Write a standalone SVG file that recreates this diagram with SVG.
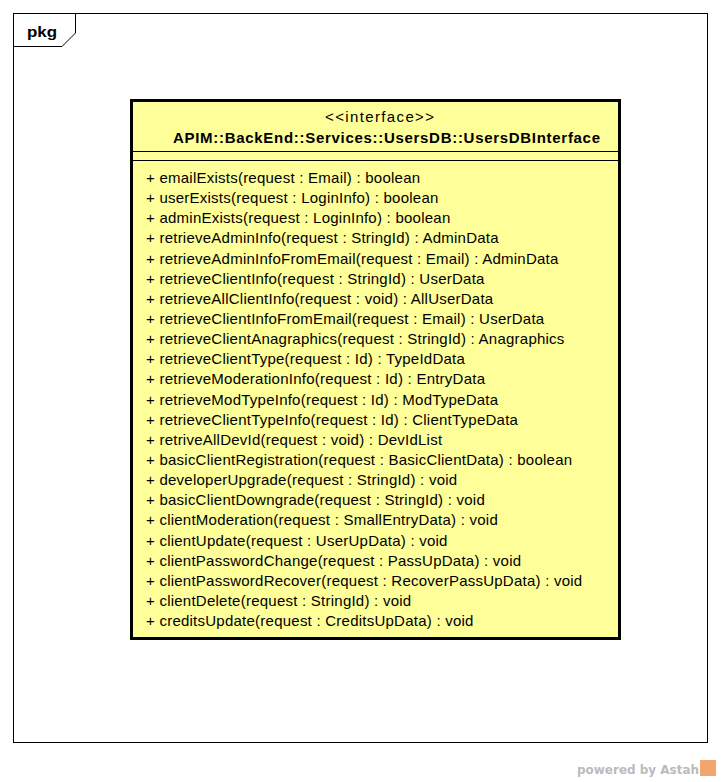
<svg xmlns="http://www.w3.org/2000/svg" width="721" height="782" viewBox="0 0 721 782">
<style>
.frame{fill:none;stroke:#000;stroke-width:1}
.cls{fill:#ffff99;stroke:#000;stroke-width:3}
.sep{stroke:#000;stroke-width:1}
text{font-family:"Liberation Sans",Arial,sans-serif;font-size:15px;fill:#000}
.b{font-weight:bold}
.m text{letter-spacing:0.24px}
.pw{font-family:"DejaVu Sans",sans-serif;font-weight:bold;font-size:13px;fill:#bbbbbb}
</style>
<rect width="721" height="782" fill="#fff"/>
<g id="pkg">
<rect class="frame" x="13.5" y="13.5" width="694" height="729"/>
<path class="frame" d="M13.5,46.5 H62 L75.5,33 V13.5"/>
<text class="b" x="27" y="37" font-size="15.5" textLength="30" lengthAdjust="spacingAndGlyphs">pkg</text>
</g>
<g id="UsersDBInterface">
<rect class="cls" x="131.5" y="100.5" width="488" height="538"/>
<line class="sep" x1="131.5" y1="151.5" x2="619.5" y2="151.5"/>
<line class="sep" x1="131.5" y1="160.5" x2="619.5" y2="160.5"/>
<text x="325" y="122" textLength="109" lengthAdjust="spacing">&lt;&lt;interface&gt;&gt;</text>
<text class="b" x="173" y="143" textLength="427" lengthAdjust="spacing">APIM::BackEnd::Services::UsersDB::UsersDBInterface</text>
<g class="m">
<text x="146" y="183">+ emailExists(request : Email) : boolean</text>
<text x="146" y="203.1">+ userExists(request : LoginInfo) : boolean</text>
<text x="146" y="223.3">+ adminExists(request : LoginInfo) : boolean</text>
<text x="146" y="243.4">+ retrieveAdminInfo(request : StringId) : AdminData</text>
<text x="146" y="263.6">+ retrieveAdminInfoFromEmail(request : Email) : AdminData</text>
<text x="146" y="283.7">+ retrieveClientInfo(request : StringId) : UserData</text>
<text x="146" y="303.8">+ retrieveAllClientInfo(request : void) : AllUserData</text>
<text x="146" y="324">+ retrieveClientInfoFromEmail(request : Email) : UserData</text>
<text x="146" y="344.1">+ retrieveClientAnagraphics(request : StringId) : Anagraphics</text>
<text x="146" y="364.3">+ retrieveClientType(request : Id) : TypeIdData</text>
<text x="146" y="384.4">+ retrieveModerationInfo(request : Id) : EntryData</text>
<text x="146" y="404.5">+ retrieveModTypeInfo(request : Id) : ModTypeData</text>
<text x="146" y="424.7">+ retrieveClientTypeInfo(request : Id) : ClientTypeData</text>
<text x="146" y="444.8">+ retriveAllDevId(request : void) : DevIdList</text>
<text x="146" y="465">+ basicClientRegistration(request : BasicClientData) : boolean</text>
<text x="146" y="485.1">+ developerUpgrade(request : StringId) : void</text>
<text x="146" y="505.2">+ basicClientDowngrade(request : StringId) : void</text>
<text x="146" y="525.4">+ clientModeration(request : SmallEntryData) : void</text>
<text x="146" y="545.5">+ clientUpdate(request : UserUpData) : void</text>
<text x="146" y="565.7">+ clientPasswordChange(request : PassUpData) : void</text>
<text x="146" y="585.8">+ clientPasswordRecover(request : RecoverPassUpData) : void</text>
<text x="146" y="605.9">+ clientDelete(request : StringId) : void</text>
<text x="146" y="626.1">+ creditsUpdate(request : CreditsUpData) : void</text>
</g>
</g>
<g id="connectors"></g>
<g id="watermark">
<text class="pw" x="577" y="774" textLength="122" lengthAdjust="spacingAndGlyphs">powered by Astah</text>
<rect x="700" y="760" width="16" height="16" fill="#f5a46b"/>
</g>
</svg>
